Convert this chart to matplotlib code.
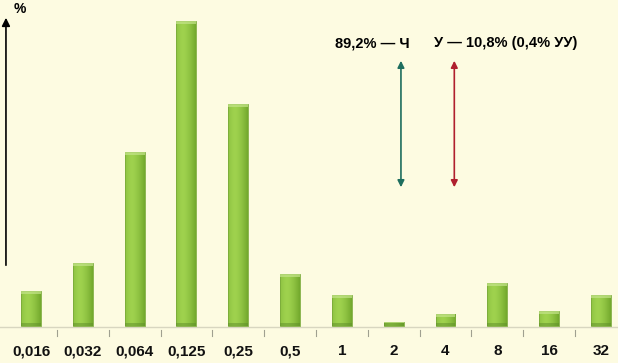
import numpy as np
import matplotlib
matplotlib.use("Agg")
import matplotlib.pyplot as plt
from matplotlib import font_manager

# Диапазоны (категории) и высоты столбцов (в условных единицах)
categories = ['0,016', '0,032', '0,064', '0,125', '0,25', '0,5',
              '1', '2', '4', '8', '16', '32']
values = [35, 63, 174, 305, 222, 52, 31, 4, 12, 43, 15, 31]

label_left = '89,2% — Ч'
label_right = 'У — 10,8% (0,4% УУ)'

names = {f.name for f in font_manager.fontManager.ttflist}
fam = ['Liberation Sans Narrow'] if 'Liberation Sans Narrow' in names else ['Liberation Sans']
fam = fam + ['DejaVu Sans']

bg = '#fdfbe1'
fig = plt.figure(figsize=(6.18, 3.63), dpi=100, facecolor=bg)
ax = fig.add_axes([0, 0, 1, 1])
ax.set_facecolor(bg)

x = np.arange(len(categories))
ax.set_xlim(-0.6, 11.33)
ax.set_ylim(-37, 326)

# столбцы с простым градиентом
bw = 0.386
grad = np.linspace(0, 1, 64)
shade = 1 - 0.55 * (np.abs(grad - 0.35) / 0.65) ** 1.5
cmap = matplotlib.colors.LinearSegmentedColormap.from_list('g', ['#6fa52a', '#9fd24e'])
for xi, v in zip(x, values):
    img = np.tile(shade, (2, 1))
    ax.imshow(img, cmap=cmap, vmin=0.4, vmax=1, aspect='auto',
              extent=(xi - bw / 2, xi + bw / 2, 0, v), zorder=2, interpolation='bilinear')
    ax.add_patch(plt.Rectangle((xi - bw / 2, 0), bw, v, fill=False,
                               edgecolor='#7aaa3a', lw=0.6, zorder=3))
    ax.add_patch(plt.Rectangle((xi - bw / 2, 0), bw, min(3, v), color='#5e8e2a',
                               lw=0, zorder=3, alpha=0.5))
    ax.add_patch(plt.Rectangle((xi - bw / 2, v - min(3, v / 3)), bw, min(3, v / 3),
                               color='#c4e48a', lw=0, zorder=3, alpha=0.7))

# базовая линия и засечки
ax.axhline(-1, color='#d8d6c0', lw=1, zorder=1)
for k in range(len(categories) - 1):
    ax.plot([k + 0.5, k + 0.5], [-4, -10], color='#a0a090', lw=0.8)

for xi, c in zip(x, categories):
    ax.text(xi, -25, c, ha='center', va='center', fontsize=11,
            fontweight='bold', family=fam, color='#111111')

# ось Y со стрелкой
ax.annotate('', xy=(-0.485, 311), xytext=(-0.485, 58),
            arrowprops=dict(arrowstyle='-|>', color='black', lw=1.2,
                            mutation_scale=12))
ax.text(-0.22, 317, '%', ha='center', va='center', fontsize=10,
        fontweight='bold', family=fam)

# двусторонние стрелки
ax.annotate('', xy=(7.14, 268), xytext=(7.14, 136),
            arrowprops=dict(arrowstyle='<|-|>', color='#1e6e5e', lw=1.2,
                            mutation_scale=10))
ax.annotate('', xy=(8.17, 268), xytext=(8.17, 136),
            arrowprops=dict(arrowstyle='<|-|>', color='#b0202e', lw=1.2,
                            mutation_scale=10))

ax.text(7.31, 283, label_left, ha='right', va='center', fontsize=10.5,
        fontweight='bold', family=fam)
ax.text(7.78, 283, label_right, ha='left', va='center', fontsize=10.5,
        fontweight='bold', family=fam)

ax.axis('off')
fig.savefig('out.png', dpi=100, facecolor=bg)
